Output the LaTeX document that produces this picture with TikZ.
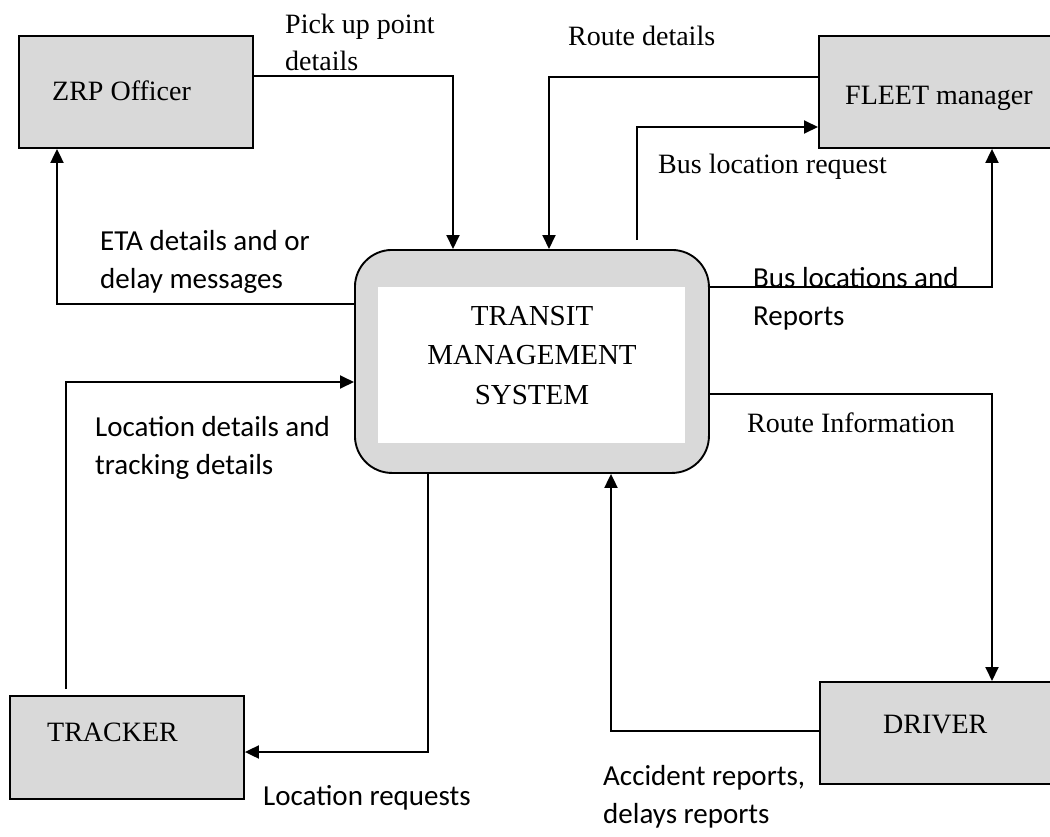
\documentclass[tikz,border=0pt]{standalone}
\usepackage{fontspec}
\setmainfont{Liberation Serif}
\newfontfamily\calibrifont{Carlito}
\usetikzlibrary{arrows.meta}
\definecolor{boxgray}{RGB}{217,217,217}

\begin{document}
\begin{tikzpicture}[x=1pt,y=-1pt,
  entity/.style={draw, line width=1.9pt, fill=boxgray, rectangle,
    anchor=north west, inner sep=0pt},
  boxlabel/.style={anchor=base west, inner sep=0pt,
    font=\fontsize{28}{38}\selectfont},
  % base anchor of a multi-line label sits on its last line
  serifnote/.style={anchor=base west, inner sep=0pt, align=left,
    font=\fontsize{28}{37}\selectfont},
  sansnote/.style={anchor=base west, inner sep=0pt, align=left,
    font=\calibrifont\fontsize{29}{38}\selectfont},
  flow/.style={line width=1.9pt, -{Triangle[length=14pt,width=13pt]}}
]
\useasboundingbox (0,0) rectangle (1050,836);
\clip (0,0) rectangle (1050,836);

% external entities
\node[entity, minimum width=234, minimum height=112] (zrp) at (18,35) {};
\node[boxlabel] (zrptext) at (52,100) {ZRP Officer};
\node[entity, minimum width=260, minimum height=112] (fleet) at (818,35) {};
\node[boxlabel] (fleettext) at (845,104) {FLEET manager};
\node[entity, minimum width=234, minimum height=103] (tracker) at (9,695) {};
\node[boxlabel] (trackertext) at (47,741) {TRACKER};
\node[entity, minimum width=260, minimum height=102] (driver) at (819,681) {};
\node[boxlabel] (drivertext) at (883,733) {DRIVER};

% central process
\node[draw, line width=1.9pt, fill=boxgray, rounded corners=37pt,
  minimum width=354, minimum height=223, anchor=north west, inner sep=0pt]
  (tms) at (354,249) {};
\node[fill=white, minimum width=307, minimum height=156, anchor=north west,
  inner sep=0pt] (tmsinner) at (378,287) {};
\node[anchor=base, inner sep=0pt, align=center,
  font=\fontsize{29}{39.5}\selectfont] (tmstext) at (532,404)
  {TRANSIT\\MANAGEMENT\\SYSTEM};

% free ends of two flows
\coordinate (busreqstart) at (637,240);
\coordinate (trackstart) at (66,689);

% data flows
\draw[flow] (zrp.east |- 0,76) -| (tms.north -| 453,0);
\draw[flow] (fleet.west |- 0,77) -| (tms.north -| 549,0);
\draw[flow] (busreqstart) |- (fleet.west |- 0,127);
\draw[flow] (tms.east |- 0,287) -| (fleet.south -| 992,0);
\draw[flow] (tms.east |- 0,394) -| (driver.north -| 992,0);
\draw[flow] (driver.west |- 0,731) -| (tms.south -| 611,0);
\draw[flow] (tms.south -| 428,0) |- (tracker.east |- 0,752);
\draw[flow] (trackstart) |- (tms.west |- 0,382);
\draw[flow] (tms.west |- 0,304) -| (zrp.south -| 57,0);

% flow labels
\node[serifnote] (lpick) at (285,70) {Pick up point\\details};
\node[serifnote] (lroute) at (568,45) {Route details};
\node[serifnote] (lbusreq) at (658,173) {Bus location request};
\node[sansnote] (leta) at (100,288) {ETA details and or\\delay messages};
\node[sansnote] (lbusloc) at (753,325) {Bus locations and\\Reports};
\node[sansnote] (lloc) at (95,474) {Location details and\\tracking details};
\node[serifnote] (lrinfo) at (747,432) {Route Information};
\node[sansnote] (llocreq) at (263,805) {Location requests};
\node[sansnote] (lacc) at (603,823) {Accident reports,\\delays reports};
\end{tikzpicture}
\end{document}
